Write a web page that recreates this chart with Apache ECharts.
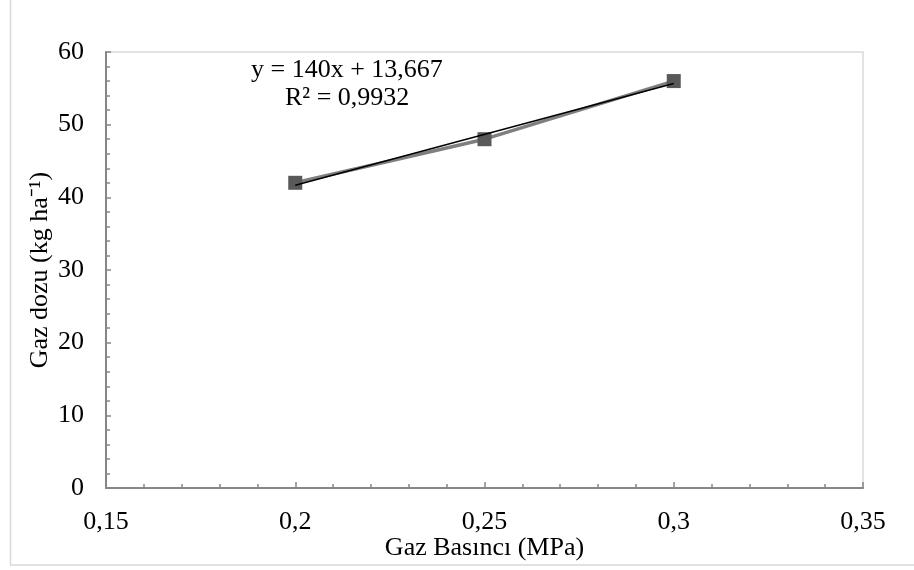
<!DOCTYPE html>
<html>
<head>
<meta charset="utf-8">
<script src="https://cdn.jsdelivr.net/npm/echarts@6/dist/echarts.min.js"></script>
<style>
  html, body { margin: 0; padding: 0; background: #fff; }
  #chart { width: 914px; height: 570px; }
</style>
</head>
<body>
<div id="chart"></div>
<script>
// measured points
var pressure = [0.2, 0.25, 0.3];
var dose = [42, 48, 56];
// linear trend, as printed on the chart
var slope = 140;
var intercept = 13.667;
var trendX = [0.2, 0.3];
var eqText = 'y = 140x + 13,667';
var r2Text = 'R² = 0,9932';

var font = '"Liberation Serif", "Times New Roman", serif';
var chart = echarts.init(document.getElementById('chart'));

var commaFmt = function (v) { return String(+v.toFixed(2)).replace('.', ','); };

chart.setOption({
  animation: false,
  grid: { left: 106, right: 51, top: 52, bottom: 82, show: true, borderColor: '#d9d9d9', borderWidth: 1.5 },
  graphic: [
    { type: 'rect', shape: { x: 10.5, y: -2, width: 910, height: 567 }, style: { fill: 'none', stroke: '#d9d9d9', lineWidth: 1.5 } },
    { type: 'text', left: 251, top: 57, style: { text: eqText, font: '26px ' + font, fill: '#000' } },
    { type: 'text', left: 285, top: 85, style: { text: r2Text, font: '26px ' + font, fill: '#000' } }
  ],
  xAxis: {
    type: 'value', min: 0.15, max: 0.35, interval: 0.05,
    name: 'Gaz Basıncı (MPa)', nameLocation: 'middle', nameGap: 47, nameMoveOverlap: false,
    nameTextStyle: { fontFamily: font, fontSize: 26, color: '#000' },
    axisLine: { lineStyle: { color: '#868686', width: 2 } },
    axisTick: { inside: true, length: 6, lineStyle: { color: '#868686', width: 1.5 } },
    minorTick: { show: true, splitNumber: 5, length: 4, lineStyle: { color: '#868686', width: 1.5 } },
    splitLine: { show: false },
    axisLabel: { margin: 21, fontFamily: font, fontSize: 26, color: '#000', formatter: commaFmt }
  },
  yAxis: {
    type: 'value', min: 0, max: 60, interval: 10,
    name: 'Gaz dozu (kg ha⁻¹)', nameLocation: 'middle', nameGap: 53, nameMoveOverlap: false,
    nameTextStyle: { fontFamily: font, fontSize: 26, color: '#000' },
    axisLine: { show: true, lineStyle: { color: '#868686', width: 2 } },
    axisTick: { show: true, inside: true, length: 5, lineStyle: { color: '#868686', width: 1.5 } },
    minorTick: { show: true, splitNumber: 5, length: 4, lineStyle: { color: '#868686', width: 1.5 } },
    splitLine: { show: false },
    axisLabel: { margin: 22, fontFamily: font, fontSize: 26, color: '#000' }
  },
  series: [
    {
      type: 'line',
      data: pressure.map(function (x, i) { return [x, dose[i]]; }),
      symbol: 'rect', symbolSize: 14,
      itemStyle: { color: '#595959' },
      lineStyle: { color: '#7f7f7f', width: 3.5 },
      z: 2
    },
    {
      type: 'line',
      data: trendX.map(function (x) { return [x, slope * x + intercept]; }),
      symbol: 'none',
      lineStyle: { color: '#000', width: 1.5 },
      z: 3
    }
  ]
});
</script>
</body>
</html>
